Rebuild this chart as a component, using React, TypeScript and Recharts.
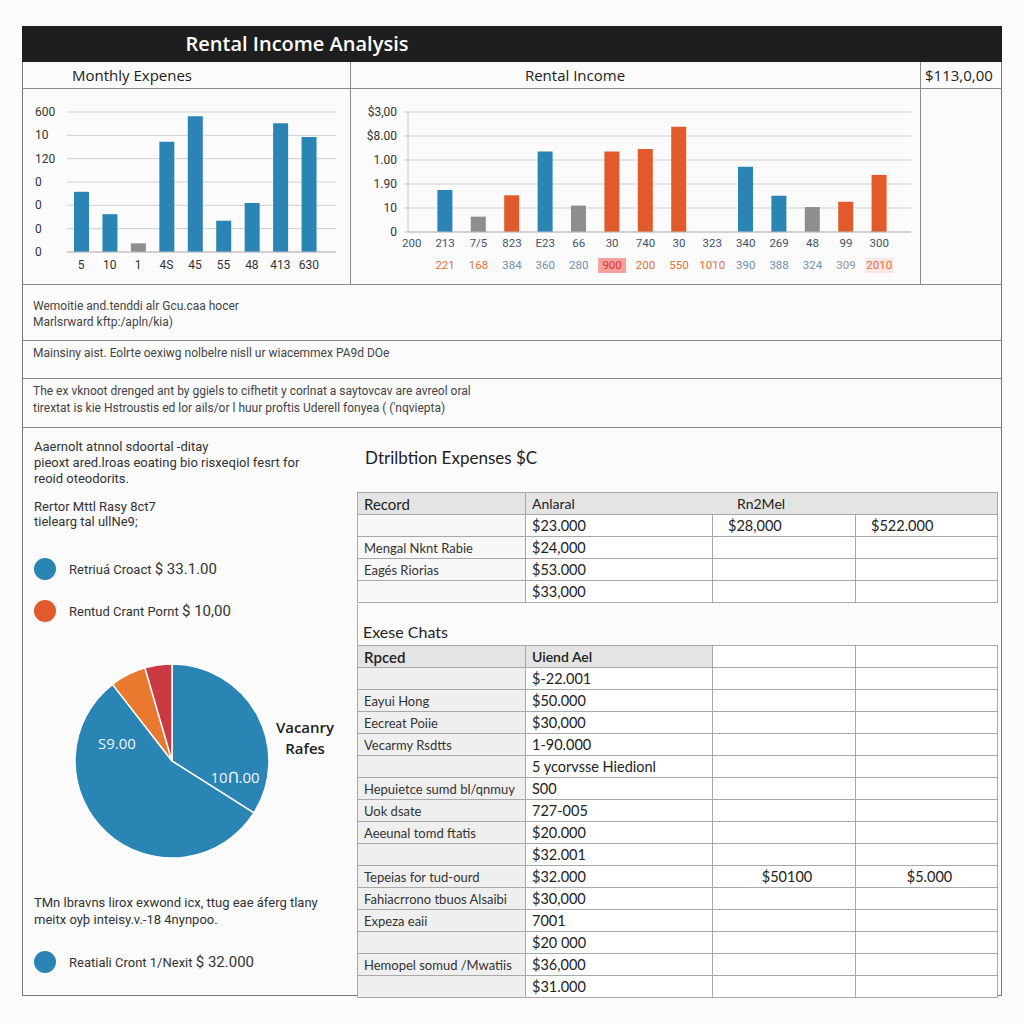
import React from 'react';
import { BarChart, Bar, XAxis, YAxis, CartesianGrid, Cell, PieChart, Pie } from 'recharts';

const BLUE = '#2a84b4';
const ORANGE = '#e05a2b';
const GRAY = '#8e8e8e';
const PIE_ORANGE = '#e8792e';
const PIE_RED = '#c93a42';
const LINE = '#8a8a8a';

const UI = '"Open Sans", "Liberation Sans", sans-serif';
const TABLE = 'Lato, "Open Sans", sans-serif';
const NARROW = 'Roboto, "Liberation Sans", sans-serif';

const kindColor: Record<string, string> = { rent: BLUE, fees: ORANGE, vacancy: GRAY, none: 'transparent' };

// Monthly expenses (left chart)
const expenseMonths = ['5', '10', '1', '4S', '45', '55', '48', '413', '630'];
const expenseValues = [2.58, 1.62, 0.37, 4.73, 5.82, 1.34, 2.1, 5.52, 4.93];
const expenseKinds = ['rent', 'rent', 'vacancy', 'rent', 'rent', 'rent', 'rent', 'rent', 'rent'];
const expenseTicks = [0, 1, 2, 3, 4, 5, 6];
const expenseTickLabels = ['0', '0', '0', '0', '120', '10', '600'];

// Rental income (right chart)
const incomeTop = ['200', '213', '7/5', '823', 'E23', '66', '30', '740', '30', '323', '340', '269', '48', '99', '300'];
const incomeBottom = ['', '221', '168', '384', '360', '280', '900', '200', '550', '1010', '390', '388', '324', '309', '2010'];
const incomeBottomTone = ['', 'o', 'o', 'b', 'b', 'b', 'hi', 'o', 'o', 'o', 'b', 'b', 'b', 'g', 'pale'];
const incomeValues = [0, 1.75, 0.64, 1.53, 3.35, 1.1, 3.35, 3.46, 4.39, 0, 2.72, 1.51, 1.04, 1.26, 2.38];
const incomeKinds = ['none', 'rent', 'vacancy', 'fees', 'rent', 'vacancy', 'fees', 'fees', 'fees', 'none', 'rent', 'rent', 'vacancy', 'fees', 'fees'];
const incomeTicks = [0, 1, 2, 3, 4, 5];
const incomeTickLabels = ['0', '10', '1.90', '1.00', '$8.00', '$3,00'];

// Vacancy pie
const pieNames = ['Rent A', 'Rent B', 'Fees', 'Vacancy'];
const pieShares = [34, 55.5, 6, 4.5];
const pieColors = [BLUE, BLUE, PIE_ORANGE, PIE_RED];

// Tables
const table1Header = ['Record', 'Anlaral', 'Rn2Mel'];
const table1Rows = [
  ['', '$23.000', '$28,000', '$522.000'],
  ['Mengal Nknt Rabie', '$24,000', '', ''],
  ['Eagés Riorias', '$53.000', '', ''],
  ['', '$33,000', '', ''],
];
const table2Header = ['Rpced', 'Uiend Ael', '', ''];
const table2Rows = [
  ['', '$-22.001', '', ''],
  ['Eayui Hong', '$50.000', '', ''],
  ['Eecreat Poiie', '$30,000', '', ''],
  ['Vecarmy Rsdtts', '1-90.000', '', ''],
  ['', '5 ycorvsse Hiedionl', '', ''],
  ['Hepuietce sumd bl/qnmuy', 'S00', '', ''],
  ['Uok dsate', '727-005', '', ''],
  ['Aeeunal tomd ftatis', '$20.000', '', ''],
  ['', '$32.001', '', ''],
  ['Tepeias for tud-ourd', '$32.000', '$50100', '$5.000'],
  ['Fahiacrrono tbuos Alsaibi', '$30,000', '', ''],
  ['Expeza eaii', '7001', '', ''],
  ['', '$20 000', '', ''],
  ['Hemopel somud /Mwatiis', '$36,000', '', ''],
  ['', '$31.000', '', ''],
];

const expenseData = expenseMonths.map((m, i) => ({ month: m, value: expenseValues[i], kind: expenseKinds[i] }));
const incomeData = incomeTop.map((t, i) => ({ label: t, value: incomeValues[i], kind: incomeKinds[i] }));
const pieData = pieNames.map((n, i) => ({ name: n, value: pieShares[i] }));

function Txt({ x, y, size = 12, color = '#444', font = NARROW, weight = 400, children, center }: any) {
  const h = Math.round(size * 1.4);
  return (
    <div
      style={{
        position: 'absolute',
        left: center ? x - 200 : x,
        width: center ? 400 : undefined,
        textAlign: center ? 'center' : 'left',
        top: y - h / 2,
        height: h,
        lineHeight: `${h}px`,
        fontSize: size,
        color,
        fontFamily: font,
        fontWeight: weight,
        whiteSpace: 'nowrap',
      }}
    >
      {children}
    </div>
  );
}

function HLine({ x, y, w, color = LINE }: any) {
  return <div style={{ position: 'absolute', left: x, top: y, width: w, height: 1, background: color }} />;
}
function VLine({ x, y, h, color = LINE }: any) {
  return <div style={{ position: 'absolute', left: x, top: y, width: 1, height: h, background: color }} />;
}

function ExpenseYTick({ y, payload }: any) {
  return (
    <text x={13} y={y} dy={4} fontSize={12} fill="#333" fontFamily={NARROW}>
      {expenseTickLabels[payload.value]}
    </text>
  );
}

function IncomeYTick({ x, y, payload }: any) {
  return (
    <text x={x} y={y} dy={4} textAnchor="end" fontSize={12} fill="#333" fontFamily={NARROW}>
      {incomeTickLabels[payload.value]}
    </text>
  );
}

const toneColor: Record<string, string> = { o: '#e0703c', b: '#6f8fae', g: '#8d96a3', hi: '#e2352a', pale: '#e2714f' };

function IncomeXTick(props: any) {
  const { x, y } = props;
  const i = props.index ?? props.payload?.index ?? 0;
  const tone = incomeBottomTone[i];
  return (
    <g>
      <text x={x} y={y + 7} textAnchor="middle" fontSize={11.5} fill="#44536a" fontFamily={NARROW}>
        {incomeTop[i]}
      </text>
      {tone === 'hi' && <rect x={x - 14} y={y + 18} width={28} height={15} fill="#f3a29d" />}
      {tone === 'pale' && <rect x={x - 14} y={y + 18} width={28} height={15} fill="#fbe5e1" />}
      <text x={x} y={y + 29} textAnchor="middle" fontSize={11.5} fill={toneColor[tone] || '#333'} fontFamily={NARROW}>
        {incomeBottom[i]}
      </text>
    </g>
  );
}

const cellBase: React.CSSProperties = {
  border: '1px solid #a8a8a8',
  height: 21,
  padding: '0 0 0 6px',
  whiteSpace: 'nowrap',
  overflow: 'hidden',
  fontFamily: TABLE,
  color: '#222',
};
const colWidths = [168, 187, 143, 142];

function TableShell({ top, children }: any) {
  return (
    <table
      style={{
        position: 'absolute',
        left: 357,
        top,
        width: 641,
        borderCollapse: 'collapse',
        tableLayout: 'fixed',
        background: '#fff',
      }}
    >
      <colgroup>
        {colWidths.map((w, i) => (
          <col key={i} style={{ width: w }} />
        ))}
      </colgroup>
      <tbody>{children}</tbody>
    </table>
  );
}

function BodyRows({ rows, firstColFill, centerExtra }: any) {
  return rows.map((r: string[], ri: number) => (
    <tr key={ri}>
      {r.map((c, ci) => (
        <td
          key={ci}
          style={{
            ...cellBase,
            fontSize: ci === 0 ? 13 : 14.5,
            background: ci === 0 ? firstColFill : '#fff',
            color: ci === 0 ? '#333' : '#222',
            textAlign: centerExtra && ci >= 2 ? 'center' : 'left',
            paddingLeft: ci >= 2 && !centerExtra ? 15 : 6,
          }}
        >
          {c}
        </td>
      ))}
    </tr>
  ));
}

function Dot({ x, y, color }: any) {
  return (
    <div style={{ position: 'absolute', left: x - 11, top: y - 11, width: 22, height: 22, borderRadius: 11, background: color }} />
  );
}

export default function App() {
  return (
    <div style={{ position: 'absolute', left: 0, top: 0, width: 1024, height: 1024, background: '#fbfbfb', overflow: 'hidden' }}>
      {/* frame */}
      <div style={{ position: 'absolute', left: 22, top: 26, width: 980, height: 970, border: '1px solid #777', boxSizing: 'border-box' }} />
      <div style={{ position: 'absolute', left: 22, top: 26, width: 980, height: 36, background: '#1e1e1e' }} />
      <Txt x={297} y={44} size={20} color="#fff" font={UI} weight={600} center>
        Rental Income Analysis
      </Txt>

      {/* subtitle row */}
      <HLine x={22} y={88} w={980} />
      <VLine x={350} y={62} h={222} />
      <VLine x={920} y={62} h={222} />
      <Txt x={72} y={75} size={15} color="#222" font={UI}>
        Monthly Expenes
      </Txt>
      <Txt x={575} y={75} size={15} color="#222" font={UI} center>
        Rental Income
      </Txt>
      <Txt x={925} y={75} size={15} color="#222" font={UI}>
        $113,0,00
      </Txt>

      {/* left chart */}
      <div style={{ position: 'absolute', left: 22, top: 88 }}>
        <BarChart width={328} height={195} data={expenseData} margin={{ top: 24, right: 14, bottom: 0, left: 0 }}>
          <CartesianGrid vertical={false} stroke="#cfcfcf" />
          <XAxis
            dataKey="month"
            height={31}
            padding={{ left: 0, right: 13 }}
            tickLine={false}
            axisLine={{ stroke: '#bdbdbd' }}
            tick={{ fontSize: 12, fill: '#333', fontFamily: NARROW }}
            interval={0}
          />
          <YAxis width={45} domain={[0, 6]} ticks={expenseTicks} axisLine={false} tickLine={false} tick={<ExpenseYTick />} />
          <Bar dataKey="value" barSize={15} isAnimationActive={false}>
            {expenseData.map((d, i) => (
              <Cell key={i} fill={kindColor[d.kind]} />
            ))}
          </Bar>
        </BarChart>
      </div>

      {/* right chart */}
      <div style={{ position: 'absolute', left: 350, top: 88 }}>
        <BarChart width={570} height={195} data={incomeData} margin={{ top: 24, right: 9, bottom: 0, left: 0 }}>
          <CartesianGrid vertical={false} stroke="#cfcfcf" />
          <XAxis
            dataKey="label"
            height={51}
            padding={{ left: -13, right: 15 }}
            tickLine={false}
            axisLine={{ stroke: '#bdbdbd' }}
            tick={<IncomeXTick />}
            interval={0}
            allowDuplicatedCategory
          />
          <YAxis
            width={58}
            domain={[0, 5]}
            ticks={incomeTicks}
            axisLine={{ stroke: '#c8c8c8' }}
            tickLine={{ stroke: '#c8c8c8' }}
            tickSize={4}
            tickMargin={7}
            tick={<IncomeYTick />}
          />
          <Bar dataKey="value" barSize={15} isAnimationActive={false}>
            {incomeData.map((d, i) => (
              <Cell key={i} fill={kindColor[d.kind]} />
            ))}
          </Bar>
        </BarChart>
      </div>

      {/* note rows */}
      <HLine x={22} y={284} w={980} />
      <Txt x={33} y={306}>Wemoitie and.tenddi alr Gcu.caa hocer</Txt>
      <Txt x={33} y={322}>Marlsrward kftp:/apln/kia)</Txt>
      <HLine x={22} y={340} w={980} />
      <Txt x={33} y={353}>Mainsiny aist. Eolrte oexiwg nolbelre nisll ur wiacemmex PA9d DOe</Txt>
      <HLine x={22} y={378} w={980} />
      <Txt x={33} y={391}>The ex vknoot drenged ant by ggiels to cifhetit y corlnat a saytovcav are avreol oral</Txt>
      <Txt x={33} y={408}>tirextat is kie Hstroustis ed lor ails/or l huur proftis Uderell fonyea ( ('nqviepta)</Txt>
      <HLine x={22} y={427} w={980} />

      {/* left column */}
      <Txt x={34} y={447} size={13} color="#333">Aaernolt atnnol sdoortal -ditay</Txt>
      <Txt x={34} y={463} size={13} color="#333">pieoxt ared.lroas eoating bio risxeqiol fesrt for</Txt>
      <Txt x={34} y={479} size={13} color="#333">reoid oteodorits.</Txt>
      <Txt x={34} y={507} size={13} color="#333">Rertor Mttl Rasy 8ct7</Txt>
      <Txt x={34} y={522} size={13} color="#333">tielearg tal ullNe9;</Txt>
      <Dot x={45} y={569} color={BLUE} />
      <Txt x={69} y={569} size={13} color="#333">
        Retriuá Croact <span style={{ fontSize: 15 }}>$ 33.1.00</span>
      </Txt>
      <Dot x={45} y={611} color={ORANGE} />
      <Txt x={69} y={611} size={13} color="#333">
        Rentud Crant Pornt <span style={{ fontSize: 15 }}>$ 10,00</span>
      </Txt>

      <div style={{ position: 'absolute', left: 22, top: 640 }}>
        <PieChart width={330} height={240} margin={{ top: 0, right: 0, bottom: 0, left: 0 }}>
          <Pie
            data={pieData}
            dataKey="value"
            cx={150}
            cy={121}
            outerRadius={97}
            startAngle={90}
            endAngle={-270}
            stroke="#ffffff"
            strokeWidth={1.5}
            isAnimationActive={false}
          >
            {pieData.map((d, i) => (
              <Cell key={i} fill={pieColors[i]} />
            ))}
          </Pie>
        </PieChart>
      </div>
      <Txt x={117} y={743} size={15} color="#eef5fa" font={UI} center>
        S9.00
      </Txt>
      <Txt x={235} y={777} size={15} color="#eef5fa" font={UI} center>
        10Ո.00
      </Txt>
      <Txt x={305} y={727} size={15} color="#222" font={UI} weight={600} center>
        Vacanry
      </Txt>
      <Txt x={305} y={748} size={15} color="#222" font={UI} weight={600} center>
        Rafes
      </Txt>

      <Txt x={34} y={903} size={13} color="#333">TMn lbravns lirox exwond icx, ttug eae áferg tlany</Txt>
      <Txt x={34} y={920} size={13} color="#333">meitx oyþ inteisy.v.-18 4nynpoo.</Txt>
      <Dot x={45} y={962} color={BLUE} />
      <Txt x={69} y={962} size={13} color="#333">
        Reatiali Cront 1/Nexit <span style={{ fontSize: 15 }}>$ 32.000</span>
      </Txt>

      {/* right column */}
      <Txt x={365} y={458} size={17} color="#222" font={TABLE}>
        Dtrilbtion Expenses $C
      </Txt>
      <TableShell top={492}>
        <tr>
          <td style={{ ...cellBase, fontSize: 15, background: '#e4e4e4' }}>{table1Header[0]}</td>
          <td colSpan={3} style={{ ...cellBase, fontSize: 14, background: '#e4e4e4' }}>
            <span style={{ display: 'inline-block', width: 205 }}>{table1Header[1]}</span>
            {table1Header[2]}
          </td>
        </tr>
        <BodyRows rows={table1Rows} firstColFill="#f8f8f8" />
      </TableShell>
      <VLine x={357} y={604} h={392} color="#a8a8a8" />
      <Txt x={363} y={632} size={16} color="#222" font={TABLE}>
        Exese Chats
      </Txt>
      <TableShell top={645}>
        <tr>
          {table2Header.map((h, i) => (
            <td
              key={i}
              style={{ ...cellBase, fontSize: i === 0 ? 15 : 14, fontWeight: 600, background: i < 2 ? '#e4e4e4' : '#fff' }}
            >
              {h}
            </td>
          ))}
        </tr>
        <BodyRows rows={table2Rows} firstColFill="#efefef" centerExtra />
      </TableShell>
    </div>
  );
}
